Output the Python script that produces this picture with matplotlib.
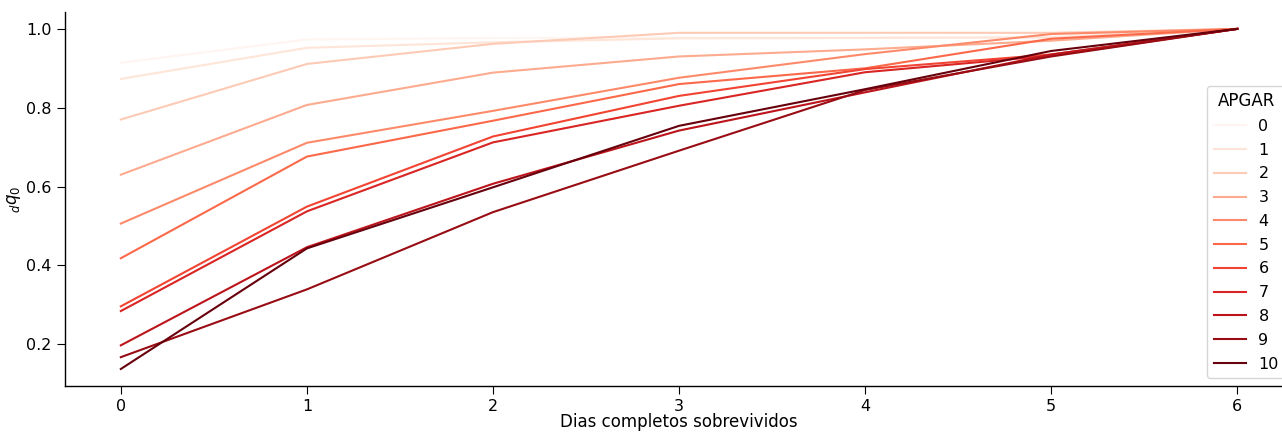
import matplotlib
matplotlib.use("Agg")
import matplotlib.pyplot as plt

# dias completos sobrevividos
dias = [0, 1, 2, 3, 4, 5, 6]
apgar = [0, 1, 2, 3, 4, 5, 6, 7, 8, 9, 10]

# dq0 por APGAR
q_apgar0 = [0.914, 0.973, 0.977, 0.978, 0.978, 0.980, 1.0]
q_apgar1 = [0.873, 0.952, 0.966, 0.976, 0.977, 0.978, 1.0]
q_apgar2 = [0.770, 0.911, 0.962, 0.990, 0.990, 0.990, 1.0]
q_apgar3 = [0.630, 0.807, 0.889, 0.930, 0.948, 0.970, 1.0]
q_apgar4 = [0.506, 0.711, 0.792, 0.876, 0.936, 0.987, 1.0]
q_apgar5 = [0.418, 0.676, 0.767, 0.860, 0.900, 0.975, 1.0]
q_apgar6 = [0.296, 0.549, 0.727, 0.830, 0.898, 0.935, 1.0]
q_apgar7 = [0.284, 0.537, 0.712, 0.805, 0.890, 0.932, 1.0]
q_apgar8 = [0.197, 0.446, 0.607, 0.742, 0.839, 0.935, 1.0]
q_apgar9 = [0.167, 0.339, 0.535, 0.691, 0.845, 0.930, 1.0]
q_apgar10 = [0.137, 0.443, 0.598, 0.754, 0.847, 0.944, 1.0]

series = [q_apgar0, q_apgar1, q_apgar2, q_apgar3, q_apgar4, q_apgar5,
          q_apgar6, q_apgar7, q_apgar8, q_apgar9, q_apgar10]

plt.rcParams["font.size"] = 12
plt.rcParams["xtick.labelsize"] = 11.5
plt.rcParams["ytick.labelsize"] = 11.5
plt.rcParams["xtick.major.size"] = 6
plt.rcParams["ytick.major.size"] = 6
plt.rcParams["axes.linewidth"] = 1.0

fig = plt.figure(figsize=(12.82, 4.32), dpi=100)
ax = fig.add_axes([0.0507, 0.1065, 0.958, 0.866])

cmap = plt.cm.Reds
for a, q in zip(apgar, series):
    ax.plot(dias, q, color=cmap(a / 10), lw=1.5, label=str(a))

ax.spines["top"].set_visible(False)
ax.spines["right"].set_visible(False)
ax.set_xlabel("Dias completos sobrevividos", labelpad=-1)
ax.set_ylabel("${}_{d}q_{0}$")
ax.yaxis.set_label_coords(-0.034, 0.5)
ax.legend(title="APGAR", loc="lower right", fontsize=11.5, title_fontsize=12,
          labelspacing=0.55)

fig.savefig("out.png", dpi=100)
